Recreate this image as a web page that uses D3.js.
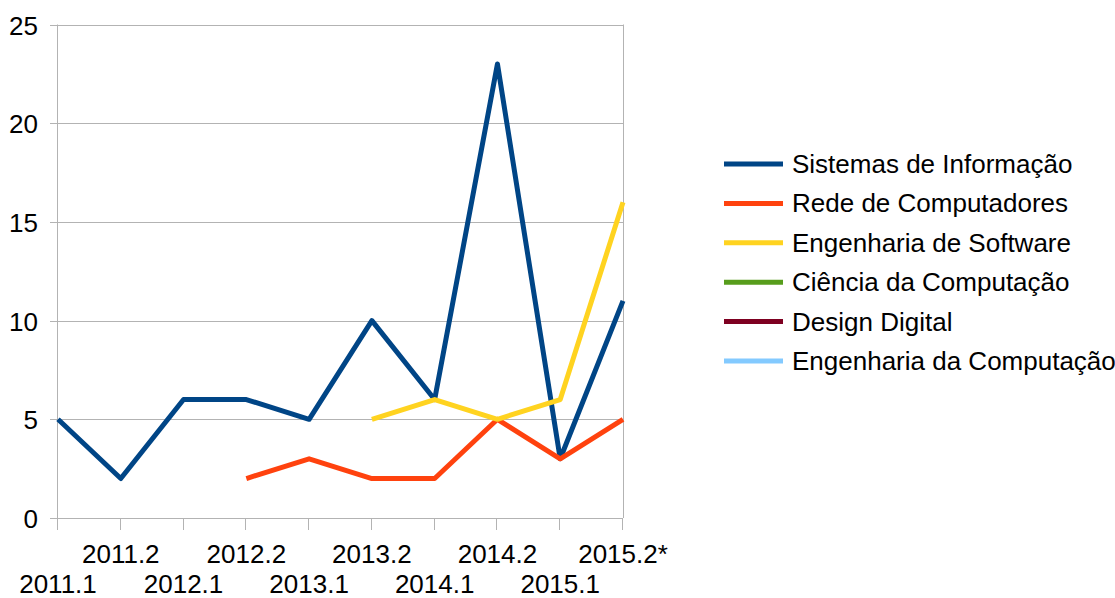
<!DOCTYPE html>
<html>
<head>
<meta charset="utf-8">
<script src="https://cdn.jsdelivr.net/npm/d3@7"></script>
<style>
  body { margin: 0; background: #fff; }
  text { font-family: "Liberation Sans", Arial, sans-serif; fill: #000; }
</style>
</head>
<body>
<script>
// semestres
var semesters = ["2011.1","2011.2","2012.1","2012.2","2013.1","2013.2","2014.1","2014.2","2015.1","2015.2*"];

var sistemas   = [5, 2, 6, 6, 5, 10, 6, 23, 3, 11];
var rede       = [null, null, null, 2, 3, 2, 2, 5, 3, 5];
var engSoft    = [null, null, null, null, null, 5, 6, 5, 6, 16];
var ciencia    = [null, null, null, null, null, null, null, null, null, null];
var design     = [null, null, null, null, null, null, null, null, null, null];
var engComp    = [null, null, null, null, null, null, null, null, null, null];

var seriesNames = ["Sistemas de Informação","Rede de Computadores","Engenharia de Software",
                   "Ciência da Computação","Design Digital","Engenharia da Computação"];
var seriesValues = [sistemas, rede, engSoft, ciencia, design, engComp];
var colors = ["#004586","#ff420e","#ffd320","#579d1c","#7e0021","#83caff"];
var yTicks = [0, 5, 10, 15, 20, 25];

var W = 1115, H = 598;
var plotL = 58, plotR = 623, plotT = 24.5, plotB = 518;

var svg = d3.select("body").append("svg")
    .attr("width", W)
    .attr("height", H);

var x = d3.scalePoint().domain(semesters).range([plotL, plotR]).padding(0);
var y = d3.scaleLinear().domain([0, 25]).range([plotB, plotT]);

// grid
svg.append("g").selectAll("line")
    .data(yTicks)
  .enter().append("line")
    .attr("x1", plotL - 8).attr("x2", plotR)
    .attr("y1", d => Math.round(y(d)) + 0.5).attr("y2", d => Math.round(y(d)) + 0.5)
    .attr("stroke", "#b3b3b3").attr("stroke-width", 1);

// vertical axis lines
svg.append("line")
    .attr("x1", plotL - 0.5).attr("x2", plotL - 0.5)
    .attr("y1", plotT).attr("y2", plotB)
    .attr("stroke", "#b3b3b3");
svg.append("line")
    .attr("x1", plotR + 0.5).attr("x2", plotR + 0.5)
    .attr("y1", plotT).attr("y2", plotB)
    .attr("stroke", "#b3b3b3");

// x ticks
svg.append("g").selectAll("line")
    .data(semesters)
  .enter().append("line")
    .attr("x1", d => Math.round(x(d)) - 0.5).attr("x2", d => Math.round(x(d)) - 0.5)
    .attr("y1", plotB).attr("y2", plotB + 12)
    .attr("stroke", "#b3b3b3");

// y labels
svg.append("g").selectAll("text")
    .data(yTicks)
  .enter().append("text")
    .attr("x", 38)
    .attr("y", d => y(d) + 10)
    .attr("text-anchor", "end")
    .style("font-size", "26px")
    .text(d => d);

// x labels, alternating rows
svg.append("g").selectAll("text")
    .data(semesters)
  .enter().append("text")
    .attr("x", d => x(d))
    .attr("y", (d, i) => i % 2 == 1 ? 563 : 593)
    .attr("text-anchor", "middle")
    .style("font-size", "26px")
    .text(d => d);

// lines
var line = d3.line()
    .defined(d => d.v != null)
    .x(d => x(d.s))
    .y(d => y(d.v));

seriesValues.forEach(function(vals, k) {
  var pts = vals.map((v, i) => ({s: semesters[i], v: v}));
  svg.append("path")
      .datum(pts)
      .attr("fill", "none")
      .attr("stroke", colors[k])
      .attr("stroke-width", 5)
      .attr("stroke-linejoin", "round")
      .attr("d", line);
});

// legend
var lg = svg.append("g").selectAll("g")
    .data(seriesNames)
  .enter().append("g")
    .attr("transform", (d, i) => "translate(0," + (164 + i * 39.4) + ")");
lg.append("line")
    .attr("x1", 724).attr("x2", 783)
    .attr("y1", 0).attr("y2", 0)
    .attr("stroke", (d, i) => colors[i])
    .attr("stroke-width", 5);
lg.append("text")
    .attr("x", 792)
    .attr("y", 9)
    .style("font-size", "26px")
    .text(d => d);
</script>
</body>
</html>
